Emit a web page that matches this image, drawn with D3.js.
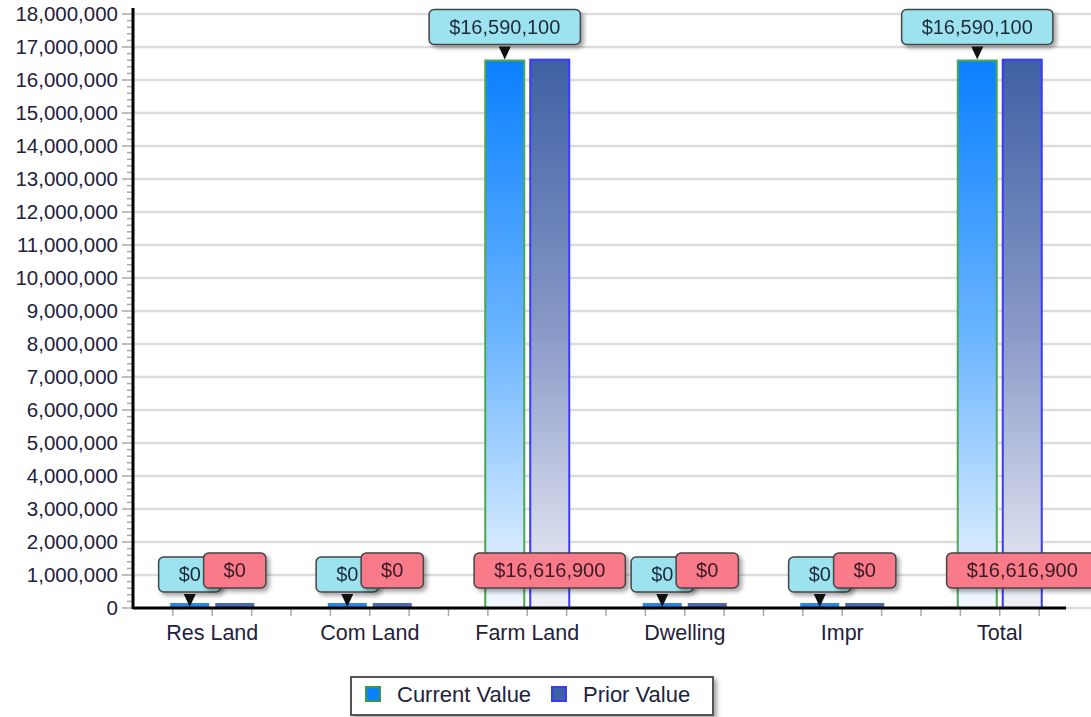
<!DOCTYPE html>
<html>
<head>
<meta charset="utf-8">
<script src="https://cdn.jsdelivr.net/npm/d3@7"></script>
<style>
  body { margin: 0; background: #fff; }
  text { font-family: "Liberation Sans", Arial, sans-serif; }
</style>
</head>
<body>
<script>
var width = 1091;
var height = 717;

var categories = ["Res Land", "Com Land", "Farm Land", "Dwelling", "Impr", "Total"];
var currentValues = [0, 0, 16590100, 0, 0, 16590100];
var priorValues = [0, 0, 16616900, 0, 0, 16616900];
var seriesNames = ["Current Value", "Prior Value"];
var yTicks = d3.range(0, 18000001, 1000000);

var svg = d3.select("body").append("svg")
    .attr("width", width)
    .attr("height", height);

var defs = svg.append("defs");

var gCur = defs.append("linearGradient").attr("id", "gradCur")
    .attr("x1", 0).attr("y1", 0).attr("x2", 0).attr("y2", 1);
gCur.append("stop").attr("offset", "0%").attr("stop-color", "#0a80ff");
gCur.append("stop").attr("offset", "50%").attr("stop-color", "#6ab4ff");
gCur.append("stop").attr("offset", "100%").attr("stop-color", "#f2f8ff");

var gPri = defs.append("linearGradient").attr("id", "gradPri")
    .attr("x1", 0).attr("y1", 0).attr("x2", 0).attr("y2", 1);
gPri.append("stop").attr("offset", "0%").attr("stop-color", "#3e60a4");
gPri.append("stop").attr("offset", "50%").attr("stop-color", "#8a9ac8");
gPri.append("stop").attr("offset", "100%").attr("stop-color", "#f0f1f8");

var shadow = defs.append("filter").attr("id", "shadow")
    .attr("x", "-20%").attr("y", "-20%").attr("width", "150%").attr("height", "160%");
shadow.append("feDropShadow")
    .attr("dx", 3).attr("dy", 3).attr("stdDeviation", 2)
    .attr("flood-color", "#000").attr("flood-opacity", 0.35);

var left = 133, bottom = 608;

var y = d3.scaleLinear()
    .domain([0, 18000000])
    .range([bottom, 14]);

var x = d3.scaleBand()
    .domain(categories)
    .range([133.5, 1078.5]);

var xs = d3.scaleBand()
    .domain(seriesNames)
    .range([-42, 42])
    .paddingInner(0.1333);

// grid lines
svg.append("g").selectAll("line")
    .data(yTicks)
    .enter()
    .append("line")
    .attr("x1", left)
    .attr("x2", width)
    .attr("y1", function (d) { return y(d); })
    .attr("y2", function (d) { return y(d); })
    .style("stroke", "#dcdcdc")
    .style("stroke-width", 2.5);

// minor y ticks
svg.append("g").selectAll("line")
    .data(d3.range(0, 18000001, 200000))
    .enter()
    .append("line")
    .attr("x1", function (d) { return d % 1000000 === 0 ? left - 11 : left - 6; })
    .attr("x2", left)
    .attr("y1", function (d) { return y(d); })
    .attr("y2", function (d) { return y(d); })
    .style("stroke", "#aaa")
    .style("stroke-width", 1.5);

// y axis labels
var yAxis = d3.axisLeft(y)
    .tickValues(yTicks)
    .tickFormat(d3.format(","))
    .tickSize(0)
    .tickPadding(15);

var yg = svg.append("g")
    .attr("transform", "translate(" + left + ",0)")
    .call(yAxis);
yg.select(".domain").remove();
yg.selectAll("text")
    .style("font-size", "20.5px")
    .style("fill", "#22223a");

// x minor ticks
var tickXs = [];
categories.forEach(function (c) {
    for (var k = 0; k < 4; k++) tickXs.push(x(c) + k * x.bandwidth() / 4);
});
tickXs.push(x.range()[1]);
svg.append("g").selectAll("line")
    .data(tickXs.filter(function (t) { return t > left + 5 && t < 1066; }))
    .enter()
    .append("line")
    .attr("x1", function (d) { return d; })
    .attr("x2", function (d) { return d; })
    .attr("y1", bottom)
    .attr("y2", bottom + 8)
    .style("stroke", "#aaa")
    .style("stroke-width", 1.5);

// x axis labels
var xAxis = d3.axisBottom(x).tickSize(0).tickPadding(17);
var xg = svg.append("g")
    .attr("transform", "translate(0," + bottom + ")")
    .call(xAxis);
xg.select(".domain").remove();
xg.selectAll("text")
    .style("font-size", "21.5px")
    .style("fill", "#22223a");

// bars
var rows = categories.map(function (c, i) {
    return { cat: c, values: [
        { s: seriesNames[0], v: currentValues[i] },
        { s: seriesNames[1], v: priorValues[i] }
    ] };
});

var groups = svg.append("g").selectAll("g")
    .data(rows)
    .enter()
    .append("g")
    .attr("transform", function (d) { return "translate(" + (x(d.cat) + x.bandwidth() / 2) + ",0)"; });

groups.selectAll("rect")
    .data(function (d) { return d.values; })
    .enter()
    .append("rect")
    .attr("x", function (d) { return xs(d.s); })
    .attr("width", xs.bandwidth())
    .attr("y", function (d) { return d.v > 0 ? y(d.v) : bottom - 5; })
    .attr("height", function (d) { return d.v > 0 ? bottom - y(d.v) : 4; })
    .style("fill", function (d, i) {
        if (d.v <= 0) return i === 0 ? "#2a86e6" : "#4a68b0";
        return i === 0 ? "url(#gradCur)" : "url(#gradPri)";
    })
    .style("stroke", function (d, i) { return d.v > 0 ? (i === 0 ? "#4aa84f" : "#3a3aff") : "none"; })
    .style("stroke-width", 2);

// axes lines
svg.append("line")
    .attr("x1", left).attr("x2", left)
    .attr("y1", 8).attr("y2", bottom + 1)
    .style("stroke", "#000").style("stroke-width", 3);
svg.append("line")
    .attr("x1", left).attr("x2", 1066)
    .attr("y1", bottom).attr("y2", bottom)
    .style("stroke", "#000").style("stroke-width", 3);

// value labels
var fmt = d3.format("$,");

function drawLabel(g, cx, boxTop, txt, fill, color) {
    var lg = g.append("g").attr("filter", "url(#shadow)");
    var box = lg.append("rect");
    var t = lg.append("text")
        .attr("x", cx)
        .attr("y", boxTop + 24)
        .attr("text-anchor", "middle")
        .style("font-size", "20px")
        .style("fill", color)
        .text(txt);
    var w = t.node().getComputedTextLength() + 40;
    box.attr("x", cx - w / 2)
        .attr("y", boxTop)
        .attr("width", w)
        .attr("height", 35)
        .attr("rx", 5)
        .style("fill", fill)
        .style("stroke", "#444")
        .style("stroke-width", 1.5);
    return lg;
}

var labelLayer = svg.append("g");
rows.forEach(function (r) {
    var cx = x(r.cat) + x.bandwidth() / 2;
    var cur = r.values[0], pri = r.values[1];
    var curX = cx + xs(cur.s) + xs.bandwidth() / 2;
    var tip = y(cur.v);
    drawLabel(labelLayer, curX, tip - 51, fmt(cur.v), "#9de3ef", "#1f2a3a");
    labelLayer.append("path")
        .attr("d", "M" + (curX - 6) + "," + (tip - 14) + "L" + (curX + 6) + "," + (tip - 14) + "L" + curX + "," + (tip - 1) + "Z")
        .style("fill", "#111");
    var priX = cx + xs(pri.s) + xs.bandwidth() / 2;
    drawLabel(labelLayer, priX, bottom - 55, fmt(pri.v), "#f97a88", "#3a1a28");
});

// legend
var lgd = svg.append("g");
lgd.append("rect")
    .attr("x", 351).attr("y", 677)
    .attr("width", 362).attr("height", 38)
    .style("fill", "#fff")
    .style("stroke", "#555")
    .style("stroke-width", 2)
    .attr("filter", "url(#shadow)");

var legendItems = [
    { name: seriesNames[0], x: 366, fill: "#0a80ff", stroke: "#3a9a4a" },
    { name: seriesNames[1], x: 552, fill: "#3e60a4", stroke: "#3a3aff" }
];
legendItems.forEach(function (it) {
    lgd.append("rect")
        .attr("x", it.x).attr("y", 687)
        .attr("width", 14).attr("height", 14)
        .style("fill", it.fill)
        .style("stroke", it.stroke)
        .style("stroke-width", 2);
    lgd.append("text")
        .attr("x", it.x + 31).attr("y", 702)
        .style("font-size", "22px")
        .style("fill", "#22223a")
        .text(it.name);
});
</script>
</body>
</html>
